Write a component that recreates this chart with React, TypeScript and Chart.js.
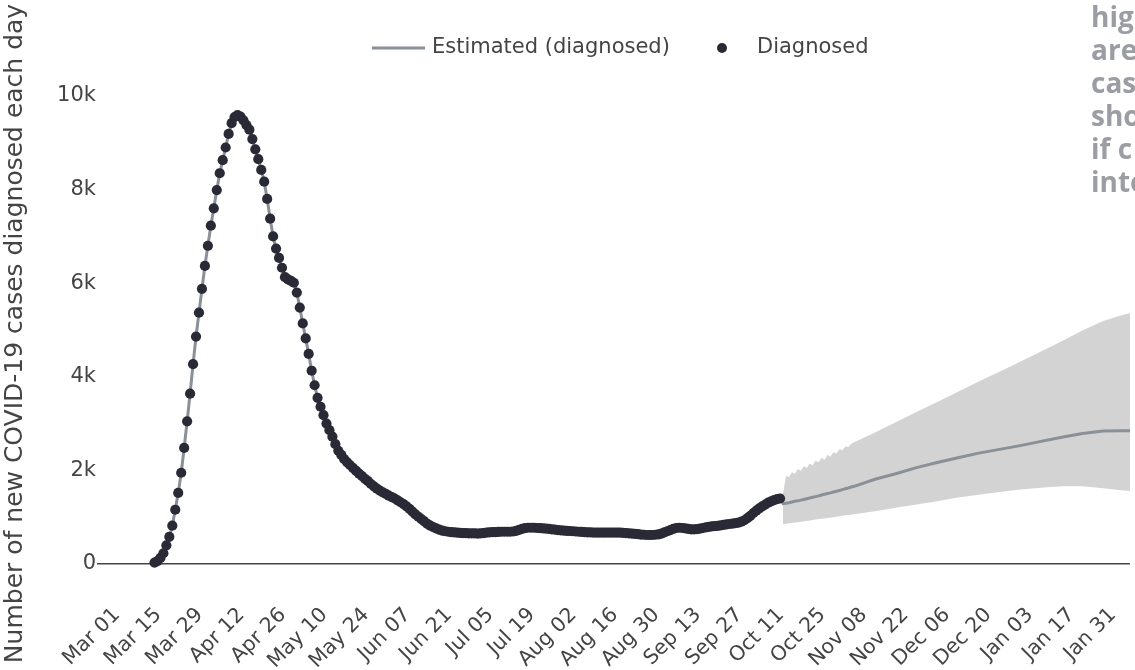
import { useEffect, useRef } from 'react';
import { Chart, registerables } from 'chart.js';

Chart.register(...registerables);

// x values are days counted from Mar 01 (day 0)
const tickDays = [0, 14, 28, 42, 56, 70, 84, 98, 112, 126, 140, 154, 168, 182, 196, 210, 224, 238, 252, 266, 280, 294, 308, 322, 336];
const tickLabels = [
  'Mar 01', 'Mar 15', 'Mar 29', 'Apr 12', 'Apr 26', 'May 10', 'May 24', 'Jun 07', 'Jun 21', 'Jul 05',
  'Jul 19', 'Aug 02', 'Aug 16', 'Aug 30', 'Sep 13', 'Sep 27', 'Oct 11', 'Oct 25', 'Nov 08', 'Nov 22',
  'Dec 06', 'Dec 20', 'Jan 03', 'Jan 17', 'Jan 31'
];
const yTicks = [0, 2000, 4000, 6000, 8000, 10000];

// daily diagnosed cases, first value is day 11 (Mar 12)
const diagnosedStartDay = 11;
const diagnosedValues = [
  30, 60, 130, 230, 400, 580, 820, 1160, 1520, 1950,
  2480, 3050, 3640, 4270, 4860, 5370, 5880, 6370, 6800, 7230,
  7600, 7990, 8350, 8630, 8900, 9190, 9420, 9550, 9590, 9560,
  9480, 9380, 9280, 9080, 8860, 8650, 8420, 8170, 7800, 7380,
  7000, 6740, 6540, 6330, 6130, 6080, 6050, 6010, 5800, 5480,
  5140, 4820, 4490, 4130, 3820, 3550, 3360, 3180, 3000, 2860,
  2720, 2560, 2420, 2330, 2240, 2170, 2110, 2050, 1990, 1930,
  1880, 1820, 1770, 1710, 1660, 1610, 1570, 1530, 1500, 1460,
  1430, 1400, 1360, 1320, 1280, 1230, 1180, 1120, 1060, 1010,
  960, 910, 860, 820, 790, 760, 735, 715, 700, 690,
  680, 675, 670, 665, 660, 660, 655, 655, 655, 650,
  655, 660, 670, 675, 680, 680, 685, 690, 690, 690,
  690, 695, 710, 730, 750, 765, 775, 775, 775, 770,
  765, 760, 755, 750, 740, 735, 725, 720, 715, 710,
  705, 700, 695, 690, 685, 680, 675, 675, 670, 670,
  670, 670, 670, 670, 670, 670, 670, 670, 665, 660,
  655, 650, 645, 640, 630, 625, 620, 620, 620, 625,
  635, 650, 675, 700, 725, 750, 770, 775, 770, 760,
  750, 740, 740, 745, 755, 770, 785, 795, 805, 810,
  815, 825, 835, 845, 855, 865, 875, 885, 905, 935,
  980, 1030, 1090, 1140, 1190, 1230, 1270, 1310, 1340, 1365,
  1385, 1400
];

// projection after the last diagnosed day
const forecastDays = [
  223, 224, 225, 226, 227, 228, 229, 230, 231, 232, 233, 234, 235, 236, 237, 238, 239, 240, 241, 242,
  243, 244, 245, 246, 247, 254, 261, 268, 275, 282, 289, 296, 303, 310, 317, 324, 331, 338, 345
];
const forecastMid = [
  1290, 1300, 1310, 1325, 1340, 1350, 1365, 1380, 1395, 1410, 1425, 1440, 1455, 1475, 1490, 1505, 1520, 1540, 1555, 1570,
  1590, 1610, 1625, 1645, 1660, 1810, 1930, 2060, 2170, 2270, 2370, 2450, 2530, 2620, 2710, 2790, 2840, 2850, 2850
];
const forecastLow = [
  850, 860, 870, 875, 885, 895, 905, 915, 920, 930, 940, 950, 960, 965, 975, 985, 995, 1000, 1010, 1020,
  1030, 1040, 1045, 1055, 1065, 1130, 1200, 1270, 1340, 1420, 1480, 1540, 1590, 1630, 1660, 1660, 1620, 1570, 1530
];
const forecastHigh = [
  1500, 1880, 1860, 1960, 1930, 2030, 1990, 2090, 2050, 2150, 2110, 2210, 2170, 2270, 2230, 2330, 2300, 2390, 2360, 2450,
  2430, 2510, 2500, 2570, 2600, 2810, 3030, 3250, 3460, 3680, 3900, 4110, 4320, 4540, 4760, 4990, 5190, 5330, 5420
];

const seriesNames = ['Estimated (diagnosed)', 'Diagnosed'];
const yTitle = 'Number of new COVID-19 cases diagnosed each day';
// side note, cut off by the right edge
const noteLines = ['highest', 'are', 'cases', 'should', 'if c', 'interpreted'];

const FONT = "'DejaVu Sans', Verdana, sans-serif";
const TEXT = '#444';
const LINE_GREY = '#899097';
const DOT_DARK = '#2a2a36';
const BAND_GREY = '#d3d3d3';

const overlayPlugin = {
  id: 'overlay',
  afterDraw(chart: Chart) {
    const ctx = chart.ctx;
    ctx.save();
    // legend
    ctx.font = `21px ${FONT}`;
    ctx.textBaseline = 'middle';
    ctx.strokeStyle = LINE_GREY;
    ctx.lineWidth = 3;
    ctx.beginPath();
    ctx.moveTo(372, 48);
    ctx.lineTo(425, 48);
    ctx.stroke();
    ctx.fillStyle = TEXT;
    ctx.fillText(seriesNames[0], 432, 48);
    ctx.fillStyle = DOT_DARK;
    ctx.beginPath();
    ctx.arc(722, 48, 5, 0, Math.PI * 2);
    ctx.fill();
    ctx.fillStyle = TEXT;
    ctx.fillText(seriesNames[1], 757, 48);

    // note text
    ctx.font = "bold 28px 'Open Sans', sans-serif";
    ctx.fillStyle = '#9a9ea4';
    ctx.textBaseline = 'alphabetic';
    noteLines.forEach((t, i) => ctx.fillText(t, 1091, 27 + i * 33));
    ctx.restore();
  }
};

const App = () => {
  const canvasRef = useRef<HTMLCanvasElement | null>(null);

  useEffect(() => {
    if (!canvasRef.current) return;

    const diagnosedPoints = diagnosedValues.map((v, i) => ({ x: diagnosedStartDay + i, y: v }));
    const estimatedPoints = [
      ...diagnosedPoints,
      ...forecastDays.map((d, i) => ({ x: d, y: forecastMid[i] }))
    ];
    const highPoints = forecastDays.map((d, i) => ({ x: d, y: forecastHigh[i] }));
    const lowPoints = forecastDays.map((d, i) => ({ x: d, y: forecastLow[i] }));

    const chart = new Chart(canvasRef.current, {
      type: 'line',
      data: {
        datasets: [
          {
            label: seriesNames[1],
            data: diagnosedPoints,
            showLine: false,
            pointRadius: 5.1,
            pointHoverRadius: 5.1,
            pointBorderWidth: 0,
            pointBackgroundColor: DOT_DARK
          },
          {
            label: seriesNames[0],
            data: estimatedPoints,
            borderColor: LINE_GREY,
            borderWidth: 3,
            pointRadius: 0,
            tension: 0
          },
          {
            label: 'upper',
            data: highPoints,
            borderWidth: 0,
            pointRadius: 0,
            fill: '+1',
            backgroundColor: BAND_GREY
          },
          {
            label: 'lower',
            data: lowPoints,
            borderWidth: 0,
            pointRadius: 0,
            fill: false
          }
        ]
      },
      options: {
        animation: false,
        responsive: false,
        layout: { padding: { top: 91, left: 0, right: 0, bottom: 0 } },
        plugins: {
          legend: { display: false },
          tooltip: { enabled: false }
        },
        scales: {
          x: {
            type: 'linear',
            min: -8.4,
            max: 340,
            afterBuildTicks: (s: any) => {
              s.ticks = tickDays.map((v) => ({ value: v }));
            },
            afterFit: (s: any) => {
              s.height = 94;
              s.paddingLeft = 0;
              s.paddingRight = 0;
            },
            ticks: {
              autoSkip: false,
              minRotation: 45,
              maxRotation: 45,
              padding: 19,
              labelOffset: -5,
              color: TEXT,
              font: { size: 20.5, family: FONT },
              callback: (v: any) => tickLabels[tickDays.indexOf(Number(v))] ?? ''
            },
            grid: { display: false },
            border: { display: false }
          },
          y: {
            min: -256,
            max: 10107,
            afterBuildTicks: (s: any) => {
              s.ticks = yTicks.map((v) => ({ value: v }));
            },
            afterFit: (s: any) => {
              s.width = 97;
              s.paddingTop = 0;
              s.paddingBottom = 0;
            },
            ticks: {
              padding: 1,
              color: TEXT,
              font: { size: 21, family: FONT },
              callback: (v: any) => (v === 0 ? '0' : `${v / 1000}k`)
            },
            grid: {
              drawTicks: false,
              lineWidth: 1.5,
              color: (c: any) => (c.tick && c.tick.value === 0 ? TEXT : 'rgba(0,0,0,0)')
            },
            border: { display: false },
            title: {
              display: true,
              text: yTitle,
              color: TEXT,
              font: { size: 25, family: FONT },
              padding: { top: 0, bottom: 0 }
            }
          }
        }
      },
      plugins: [overlayPlugin]
    });

    return () => {
      chart.destroy();
    };
  }, []);

  return (
    <div style={{ position: 'fixed', left: 0, top: 0, width: 1135, height: 670, background: '#fff', overflow: 'hidden' }}>
      <canvas ref={canvasRef} width={1135} height={670} />
    </div>
  );
};

export default App;
